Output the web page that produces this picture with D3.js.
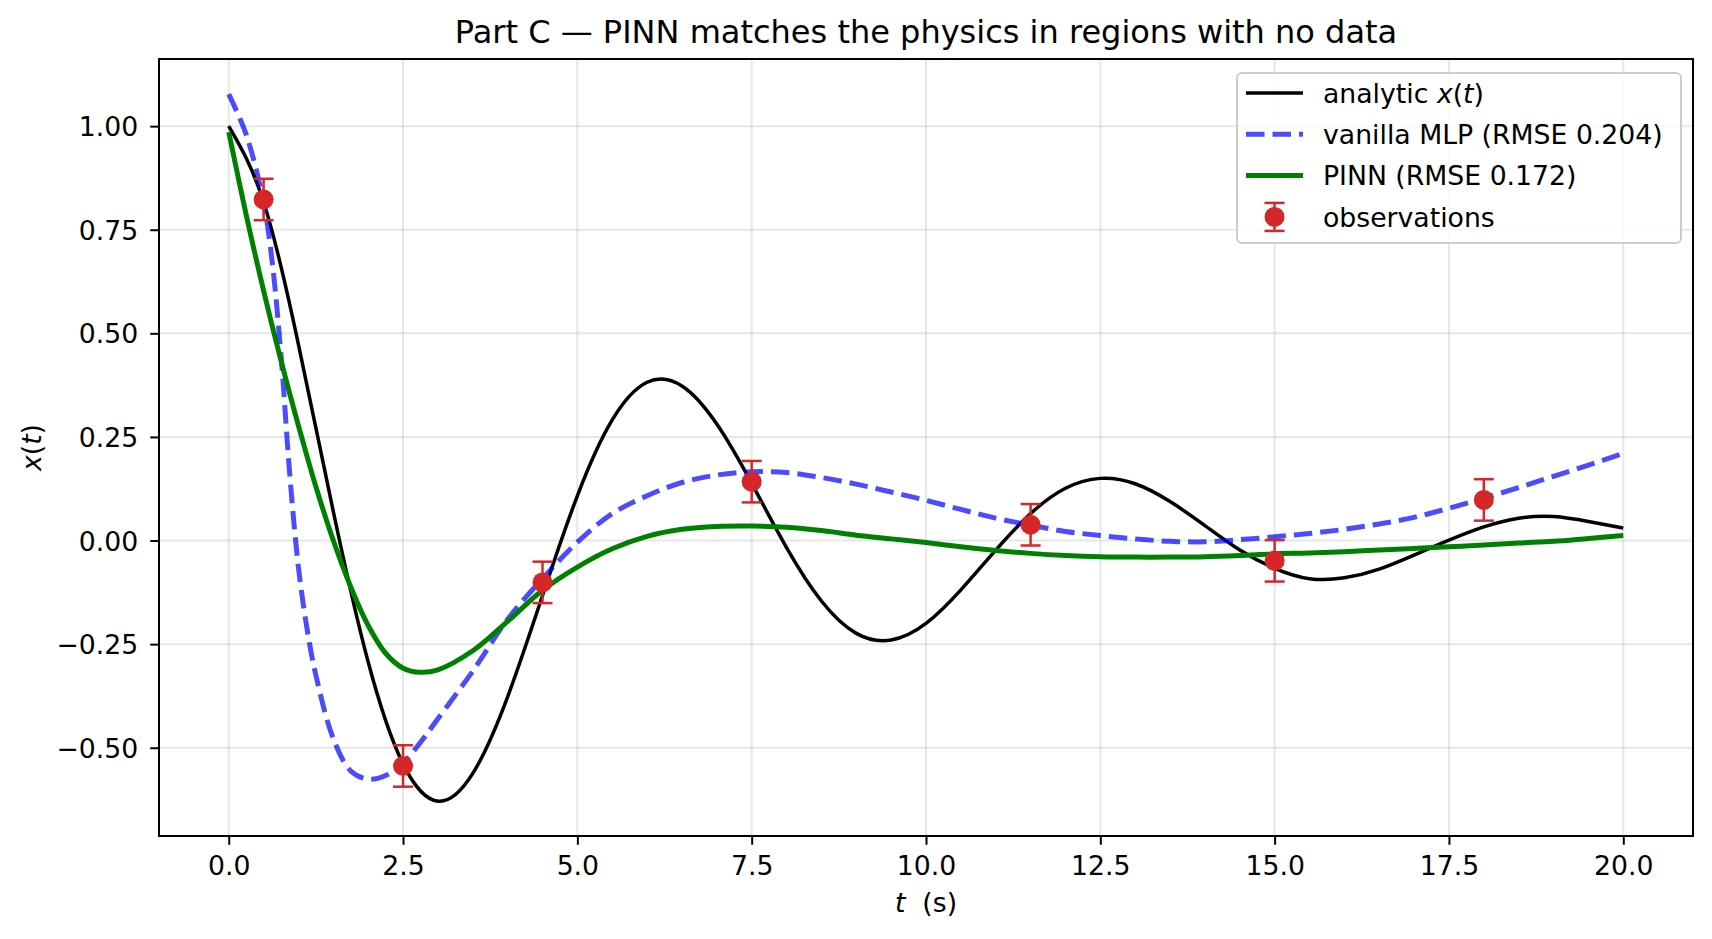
<!DOCTYPE html>
<html>
<head>
<meta charset="utf-8">
<script src="https://cdn.jsdelivr.net/npm/d3@7"></script>
<style>
  body { margin: 0; background: #fff; }
  svg text { font-family: "DejaVu Sans", sans-serif; white-space: pre; fill: #000; }
</style>
</head>
<body>
<svg id="chart" width="1712" height="939"></svg>
<script>
// values
const tGrid = [0, 0.5, 1, 1.5, 2, 2.5, 3, 3.5, 4, 4.5, 5, 5.5, 6, 6.5, 7, 7.5, 8, 8.5, 9, 9.5,
    10, 10.5, 11, 11.5, 12, 12.5, 13, 13.5, 14, 14.5, 15, 15.5, 16, 16.5, 17, 17.5, 18, 18.5, 19, 19.5, 20];
const analyticX = [1.000, 0.817, 0.473, 0.070, -0.293, -0.539, -0.629, -0.562, -0.377, -0.133,
    0.108, 0.291, 0.382, 0.373, 0.281, 0.138, -0.017, -0.146, -0.224, -0.240,
    -0.200, -0.119, -0.023, 0.065, 0.126, 0.150, 0.137, 0.094, 0.036, -0.023,
    -0.067, -0.092, -0.090, -0.069, -0.035, 0.001, 0.033, 0.054, 0.058, 0.046, 0.030];

const tModel = [0, 0.25, 0.5, 0.625, 0.75, 0.875, 1, 1.125, 1.25, 1.5, 1.75, 2, 2.25, 2.5, 2.75, 3,
    3.5, 4, 4.5, 5, 5.5, 6, 6.5, 7, 7.5, 8, 8.5, 9, 9.5, 10, 10.5, 11, 11.5, 12, 12.5, 13, 13.5,
    14, 14.5, 15, 15.5, 16, 16.5, 17, 17.5, 18, 18.5, 19, 19.5, 20];
const mlpX = [1.077, 0.980, 0.815, 0.670, 0.447, 0.160, -0.065, -0.215, -0.325, -0.478, -0.556,
    -0.576, -0.567, -0.537, -0.487, -0.430, -0.315, -0.190, -0.092, -0.004, 0.065, 0.108, 0.140,
    0.158, 0.166, 0.164, 0.152, 0.136, 0.117, 0.097, 0.075, 0.054, 0.037, 0.022, 0.012, 0.004,
    -0.002, -0.003, 0.002, 0.009, 0.017, 0.027, 0.040, 0.056, 0.078, 0.102, 0.128, 0.155, 0.182, 0.210];
const pinnX = [0.986, 0.786, 0.603, 0.517, 0.434, 0.354, 0.277, 0.202, 0.130, 0.000, -0.112,
    -0.205, -0.272, -0.308, -0.318, -0.312, -0.266, -0.195, -0.120, -0.064, -0.020, 0.010, 0.027,
    0.034, 0.035, 0.032, 0.024, 0.013, 0.004, -0.005, -0.015, -0.024, -0.031, -0.036, -0.039, -0.040,
    -0.040, -0.039, -0.036, -0.032, -0.030, -0.027, -0.023, -0.019, -0.015, -0.011, -0.006, -0.002, 0.005, 0.012];

const obsT = [0.5, 2.5, 4.5, 7.5, 11.5, 15, 18];
const obsX = [0.823, -0.544, -0.101, 0.142, 0.038, -0.049, 0.098];
const obsErr = [0.05, 0.05, 0.05, 0.05, 0.05, 0.05, 0.05];

const xTicks = [0, 2.5, 5, 7.5, 10, 12.5, 15, 17.5, 20];
const yTicks = [-0.5, -0.25, 0, 0.25, 0.5, 0.75, 1.0];

const svg = d3.select('#chart');
const W = +svg.attr('width');
const H = +svg.attr('height');
const margin = { left: 159, right: 19, top: 59, bottom: 103 };
const fs = 26.7;

const x = d3.scaleLinear().domain([-1, 21]).range([margin.left, W - margin.right]);
const y = d3.scaleLinear().domain([-0.713, 1.162]).range([H - margin.bottom, margin.top]);

const red = '#d62728';

// grid
const grid = svg.append('g').attr('stroke', '#b0b0b0').attr('stroke-opacity', 0.3).attr('stroke-width', 2);
grid.selectAll('.gx').data(xTicks).join('line')
    .attr('x1', d => x(d)).attr('x2', d => x(d))
    .attr('y1', y.range()[1]).attr('y2', y.range()[0]);
grid.selectAll('.gy').data(yTicks).join('line')
    .attr('x1', x.range()[0]).attr('x2', x.range()[1])
    .attr('y1', d => y(d)).attr('y2', d => y(d));

// curves
const lineA = d3.line().x((d, i) => x(tGrid[i])).y(d => y(d)).curve(d3.curveNatural);
const lineM = d3.line().x((d, i) => x(tModel[i])).y(d => y(d)).curve(d3.curveCatmullRom.alpha(0.5));

svg.append('path').datum(analyticX)
    .attr('d', lineA).attr('fill', 'none').attr('stroke', '#000').attr('stroke-width', 3.5);

svg.append('path').datum(mlpX)
    .attr('d', lineM).attr('fill', 'none').attr('stroke', 'blue').attr('stroke-opacity', 0.7)
    .attr('stroke-width', 5).attr('stroke-dasharray', '18.5,8');

svg.append('path').datum(pinnX)
    .attr('d', lineM).attr('fill', 'none').attr('stroke', 'green').attr('stroke-width', 5);

// observations with error bars
const obs = svg.append('g').selectAll('g').data(obsT).join('g');
obs.append('line')
    .attr('x1', d => x(d)).attr('x2', d => x(d))
    .attr('y1', (d, i) => y(obsX[i] - obsErr[i])).attr('y2', (d, i) => y(obsX[i] + obsErr[i]))
    .attr('stroke', red).attr('stroke-width', 2.5);
[-1, 1].forEach(s => {
    obs.append('line')
        .attr('x1', d => x(d) - 10).attr('x2', d => x(d) + 10)
        .attr('y1', (d, i) => y(obsX[i] + s * obsErr[i])).attr('y2', (d, i) => y(obsX[i] + s * obsErr[i]))
        .attr('stroke', red).attr('stroke-width', 2.5);
});
obs.append('circle')
    .attr('cx', d => x(d)).attr('cy', (d, i) => y(obsX[i]))
    .attr('r', 10).attr('fill', red);

// axes
const xAxis = svg.append('g')
    .attr('transform', `translate(0,${y.range()[0]})`)
    .call(d3.axisBottom(x).tickValues(xTicks).tickFormat(d3.format('.1f'))
        .tickSize(8.75).tickPadding(11.25).tickSizeOuter(0));
const yAxis = svg.append('g')
    .attr('transform', `translate(${x.range()[0]},0)`)
    .call(d3.axisLeft(y).tickValues(yTicks).tickFormat(d3.format('.2f'))
        .tickSize(8.75).tickPadding(12).tickSizeOuter(0));

[xAxis, yAxis].forEach(a => {
    a.attr('font-size', null).attr('font-family', null);
    a.select('.domain').remove();
    a.selectAll('.tick line').attr('stroke', '#000').attr('stroke-width', 2);
    a.selectAll('.tick text').attr('font-size', fs);
});
yAxis.selectAll('.tick text').attr('dy', '0.36em');

// frame
svg.append('rect')
    .attr('x', x.range()[0]).attr('y', y.range()[1])
    .attr('width', x.range()[1] - x.range()[0]).attr('height', y.range()[0] - y.range()[1])
    .attr('fill', 'none').attr('stroke', '#000').attr('stroke-width', 2);

// title and labels
svg.append('text')
    .attr('x', (x.range()[0] + x.range()[1]) / 2).attr('y', 43)
    .attr('text-anchor', 'middle').attr('font-size', 32)
    .text('Part C — PINN matches the physics in regions with no data');

const xl = svg.append('text')
    .attr('x', (x.range()[0] + x.range()[1]) / 2).attr('y', 912)
    .attr('text-anchor', 'middle').attr('font-size', fs);
xl.append('tspan').attr('font-style', 'italic').text('t');
xl.append('tspan').text('  (s)');

const yl = svg.append('text')
    .attr('transform', `translate(40.5,${(y.range()[0] + y.range()[1]) / 2}) rotate(-90)`)
    .attr('text-anchor', 'middle').attr('font-size', fs);
yl.append('tspan').attr('font-style', 'italic').text('x');
yl.append('tspan').text('(');
yl.append('tspan').attr('font-style', 'italic').text('t');
yl.append('tspan').text(')');

// legend
const lg = svg.append('g');
lg.append('rect')
    .attr('x', 1237).attr('y', 73).attr('width', 444).attr('height', 170).attr('rx', 5)
    .attr('fill', '#fff').attr('fill-opacity', 0.8).attr('stroke', '#cccccc').attr('stroke-width', 2);

const rowY = i => 93 + i * 41.3;
const hx0 = 1246, hx1 = 1303, tx = 1323;

lg.append('line').attr('x1', hx0).attr('x2', hx1).attr('y1', rowY(0)).attr('y2', rowY(0))
    .attr('stroke', '#000').attr('stroke-width', 3.5);
lg.append('line').attr('x1', hx0).attr('x2', hx1).attr('y1', rowY(1)).attr('y2', rowY(1))
    .attr('stroke', 'blue').attr('stroke-opacity', 0.7).attr('stroke-width', 5).attr('stroke-dasharray', '18.5,8');
lg.append('line').attr('x1', hx0).attr('x2', hx1).attr('y1', rowY(2)).attr('y2', rowY(2))
    .attr('stroke', 'green').attr('stroke-width', 5);
const hc = (hx0 + hx1) / 2;
lg.append('line').attr('x1', hc).attr('x2', hc).attr('y1', rowY(3) - 14).attr('y2', rowY(3) + 14)
    .attr('stroke', red).attr('stroke-width', 2.5);
[-14, 14].forEach(o => lg.append('line').attr('x1', hc - 10).attr('x2', hc + 10)
    .attr('y1', rowY(3) + o).attr('y2', rowY(3) + o).attr('stroke', red).attr('stroke-width', 2.5));
lg.append('circle').attr('cx', hc).attr('cy', rowY(3)).attr('r', 10).attr('fill', red);

const t0 = lg.append('text').attr('x', tx).attr('y', rowY(0)).attr('dy', '0.36em').attr('font-size', fs);
t0.append('tspan').text('analytic ');
t0.append('tspan').attr('font-style', 'italic').text('x');
t0.append('tspan').text('(');
t0.append('tspan').attr('font-style', 'italic').text('t');
t0.append('tspan').text(')');
['vanilla MLP (RMSE 0.204)', 'PINN (RMSE 0.172)', 'observations'].forEach((s, i) => {
    lg.append('text').attr('x', tx).attr('y', rowY(i + 1)).attr('dy', '0.36em')
        .attr('font-size', fs).text(s);
});
</script>
</body>
</html>
